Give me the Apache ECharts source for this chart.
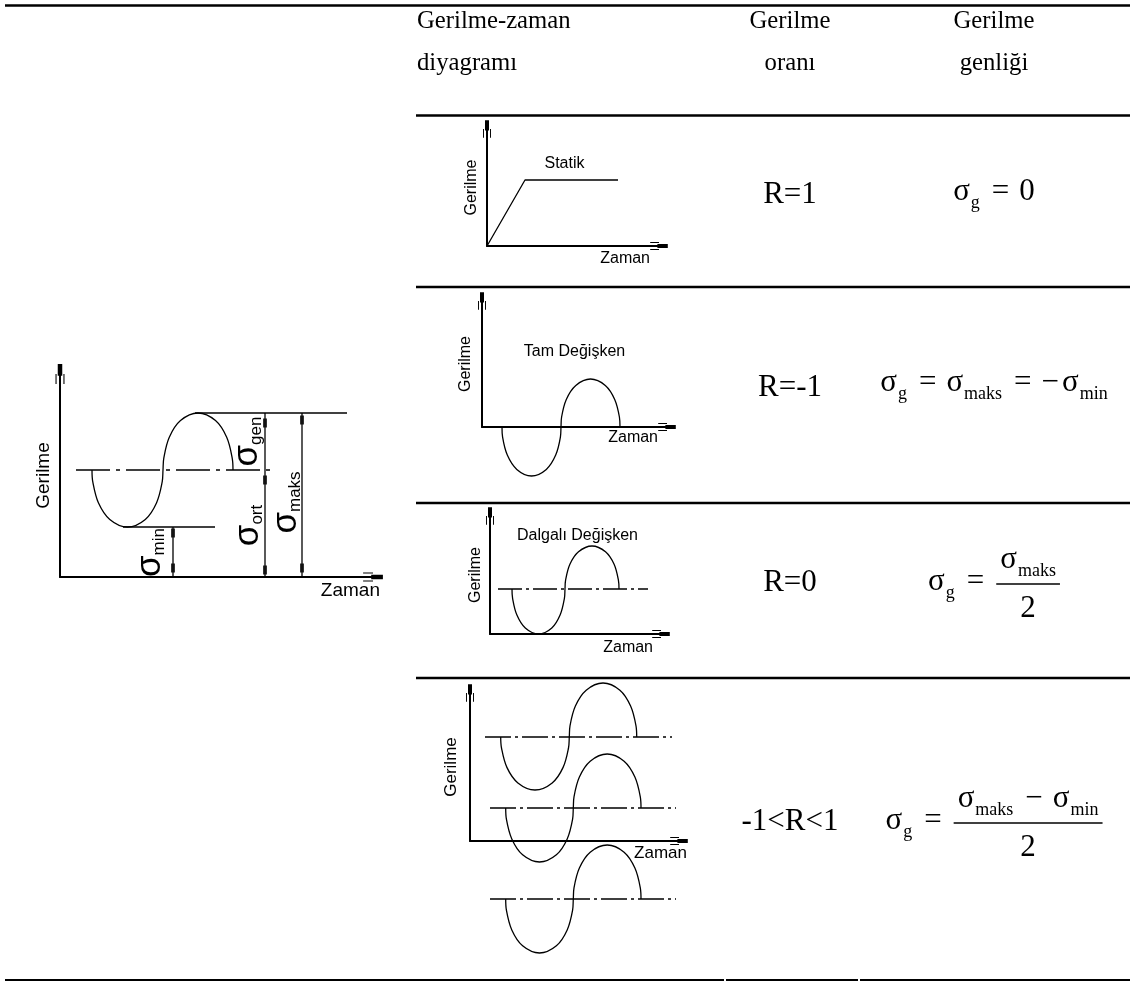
<!DOCTYPE html>
<html>
<head>
<meta charset="utf-8">
<script src="https://cdn.jsdelivr.net/npm/echarts@6/dist/echarts.min.js"></script>
<style>
  html, body { margin: 0; padding: 0; background: #fff; }
  #chart { width: 1130px; height: 981px; }
</style>
</head>
<body>
<div id="chart"></div>
<script>
// ---------- table text ----------
const basliklar = [
  ['Gerilme-zaman', 'diyagramı'],
  ['Gerilme', 'oranı'],
  ['Gerilme', 'genliği']
];
const oranlar = ['R=1', 'R=-1', 'R=0', '-1<R<1'];
// amplitude formulas: [text, kind]  kind: m = main, s = subscript, op = binary operator, neg = sign
const genlikFormulleri = [
  [['σ', 'm'], ['g', 's'], ['=', 'op'], ['0', 'm']],
  [['σ', 'm'], ['g', 's'], ['=', 'op'], ['σ', 'm'], ['maks', 's'], ['=', 'op'], ['−', 'neg'], ['σ', 'm'], ['min', 's']],
  [['σ', 'm'], ['g', 's'], ['=', 'op'], { pay: [['σ', 'm'], ['maks', 's']], payda: [['2', 'm']] }],
  [['σ', 'm'], ['g', 's'], ['=', 'op'], { pay: [['σ', 'm'], ['maks', 's'], ['−', 'op'], ['σ', 'm'], ['min', 's']], payda: [['2', 'm']] }]
];

// ---------- diagram data (stress vs time, arbitrary units) ----------
// general cycle
const genelEgri = [[3.2,10.7],[3.28,9.51],[3.84,7.43],[4.98,5.76],[6.75,5.0],[8.53,5.76],[9.66,7.43],[10.22,9.51],[10.3,10.7],[10.38,11.89],[10.93,13.97],[12.05,15.64],[13.8,16.4],[15.55,15.64],[16.67,13.97],[17.22,11.89],[17.3,10.7]];
const genelOrt = [[1.6,10.7],[21.0,10.7]];
const genelMaks = [[13.5,16.4],[28.7,16.4]];
const genelMin = [[6.3,5.0],[15.5,5.0]];
const olcuMin = [[11.3,5.0],[11.3,0]];
const olcuOrt = [[20.5,16.4],[20.5,0]];
const olcuMaks = [[24.2,16.4],[24.2,0]];
const olcuIsaret = [[11.3,4.4],[11.3,0.9],[20.5,15.4],[20.5,9.7],[20.5,0.7],[24.2,15.7],[24.2,0.9]];
const genelEtiketler = [
  { alt: 'min', konum: [9.1, 2.4] },
  { alt: 'gen', konum: [18.8, 13.5] },
  { alt: 'ort', konum: [18.9, 5.1] },
  { alt: 'maks', konum: [22.7, 7.4] }
];
// static
const statikCizgi = [[0,0],[3.8,6.6],[13.1,6.6]];
const statikEtiket = ['Statik', [7.8, 8.2]];
// fully reversed
const tamEgri = [[2.0,0],[2.06,-1.02],[2.53,-2.81],[3.48,-4.24],[4.95,-4.9],[6.43,-4.24],[7.37,-2.81],[7.84,-1.02],[7.9,0],[7.96,1.0],[8.43,2.76],[9.38,4.16],[10.85,4.8],[12.33,4.16],[13.27,2.76],[13.74,1.0],[13.8,0]];
const tamEtiket = ['Tam Değişken', [9.3, 7.5]];
// pulsating
const dalgaliEgri = [[2.2,4.5],[2.26,3.56],[2.68,1.92],[3.53,0.6],[4.85,0],[6.18,0.6],[7.02,1.92],[7.44,3.56],[7.5,4.5],[7.56,5.39],[7.99,6.97],[8.85,8.22],[10.2,8.8],[11.55,8.22],[12.41,6.97],[12.84,5.39],[12.9,4.5]];
const dalgaliOrt = [[0.8,4.5],[15.8,4.5]];
const dalgaliEtiket = ['Dalgalı Değişken', [8.8, 9.8]];
// -1<R<1 family
const ustEgri = [[3.07,10.4],[3.15,9.3],[3.69,7.36],[4.79,5.81],[6.5,5.1],[8.22,5.81],[9.31,7.36],[9.85,9.3],[9.93,10.4],[10.0,11.52],[10.54,13.5],[11.62,15.08],[13.3,15.8],[14.99,15.08],[16.06,13.5],[16.6,11.52],[16.67,10.4]];
const ortaEgri = [[3.57,3.3],[3.64,2.18],[4.18,0.2],[5.26,-1.38],[6.95,-2.1],[8.64,-1.38],[9.72,0.2],[10.26,2.18],[10.33,3.3],[10.4,4.42],[10.94,6.4],[12.02,7.98],[13.72,8.7],[15.41,7.98],[16.49,6.4],[17.03,4.42],[17.1,3.3]];
const altEgri = [[3.57,-5.8],[3.64,-6.92],[4.18,-8.9],[5.26,-10.48],[6.95,-11.2],[8.64,-10.48],[9.72,-8.9],[10.26,-6.92],[10.33,-5.8],[10.4,-4.68],[10.94,-2.7],[12.02,-1.12],[13.72,-0.4],[15.41,-1.12],[16.49,-2.7],[17.03,-4.68],[17.1,-5.8]];
const ustOrt = [[1.5,10.4],[20.2,10.4]];
const ortaOrt = [[2.0,3.3],[20.6,3.3]];
const altOrt = [[2.0,-5.8],[20.6,-5.8]];

// axis ranges per diagram
const xUst = [31.3, 17.2, 18.5, 17.1, 20.9];
const yUst = [20.3, 11.7, 12.6, 11.8, 14.8];

// ---------- layout ----------
const SERIF = '"Liberation Serif", "Times New Roman", serif';
const SANS = '"Liberation Sans", Arial, sans-serif';
const izgaralar = [ // left, top, width, height
  [60, 374, 313, 203],
  [487, 129, 172, 117],
  [482, 301, 185, 126],
  [490, 516, 171, 118],
  [470, 693, 209, 148]
];
const eksenStil = [ // label size, y-name gap, x-name gap, x-name top pad, arrow size
  { fs: 19, yGap: 7, xGap: 7, pad: 4, ok: [9, 22] },
  { fs: 16, yGap: 7.5, xGap: -9, pad: 5, ok: [8, 20] },
  { fs: 16, yGap: 8, xGap: -9, pad: 3, ok: [8, 20] },
  { fs: 16, yGap: 6, xGap: -8, pad: 6, ok: [8, 20] },
  { fs: 17, yGap: 10.5, xGap: 8, pad: 4, ok: [8, 20] }
];
const OK = 'path://M2.5,0H7.5V13H2.5Z M0,11H1.2V22H0Z M8.8,11H10V22H8.8Z';
const MUREKKEP = '#000';
const KENARSIZ = { textBorderWidth: 0, textBorderColor: 'transparent', textShadowBlur: 0, opacity: 1 };

const chart = echarts.init(document.getElementById('chart'), null, { renderer: 'canvas' });

// ---------- graphic: rules, headers, formulas ----------
const graphic = [];
const mctx = document.createElement('canvas').getContext('2d');
function olc(t, size) { mctx.font = size + 'px ' + SERIF; return mctx.measureText(t).width; }
function hat(x1, x2, y, w) {
  graphic.push({ type: 'line', silent: true, shape: { x1: x1, y1: y, x2: x2, y2: y }, style: { stroke: '#000', lineWidth: w } });
}
function yazi(text, x, base, size, family, align, sx) {
  const k = family === SERIF ? 0.3375 : 0.3465;
  graphic.push({ type: 'text', silent: true, x: x, y: base - k * size, scaleX: sx || 1,
    style: { text: text, fontSize: size, fontFamily: family, fill: '#000',
      align: align, textAlign: align, verticalAlign: 'middle', textVerticalAlign: 'middle' } });
}

hat(5, 1130, 5.5, 2.5);
[115.5, 287, 503, 678].forEach(y => hat(416, 1130, y, 2.5));
hat(5, 724, 980, 2); hat(726, 858, 980, 2); hat(860, 1130, 980, 2);

const HFS = 26, HSX = 0.95;
yazi(basliklar[0][0], 417, 30, HFS, SERIF, 'left', HSX);
yazi(basliklar[0][1], 417, 72, HFS, SERIF, 'left', HSX);
yazi(basliklar[1][0], 790, 30, HFS, SERIF, 'center', HSX);
yazi(basliklar[1][1], 790, 72, HFS, SERIF, 'center', HSX);
yazi(basliklar[2][0], 994, 30, HFS, SERIF, 'center', HSX);
yazi(basliklar[2][1], 994, 72, HFS, SERIF, 'center', HSX);

const oranTaban = [205, 398, 593, 832];
oranlar.forEach((t, i) => yazi(t, 790, oranTaban[i], 31, SERIF, 'center'));

const BOY = { m: 31, s: 18, op: 31, neg: 31 };
const BOSLUK = { m: [0, 0], s: [1, 0], op: [12, 10], neg: [0, 3] };
function tokW(tk) { return BOSLUK[tk[1]][0] + olc(tk[0], BOY[tk[1]]) + BOSLUK[tk[1]][1]; }
function satirW(list) { return list.reduce((a, tk) => a + tokW(tk), 0); }
function satirCiz(list, x, base) {
  list.forEach(tk => {
    x += BOSLUK[tk[1]][0];
    yazi(tk[0], x, base + (tk[1] === 's' ? 7 : 0), BOY[tk[1]], SERIF, 'left');
    x += olc(tk[0], BOY[tk[1]]) + BOSLUK[tk[1]][1];
  });
  return x;
}
function parcaW(p) {
  if (Array.isArray(p)) return tokW(p);
  return Math.max(satirW(p.pay), satirW(p.payda)) + 10;
}
function formulCiz(parcalar, cx, base) {
  const toplam = parcalar.reduce((a, p) => a + parcaW(p), 0);
  let x = cx - toplam / 2;
  parcalar.forEach(p => {
    if (Array.isArray(p)) { x = satirCiz([p], x, base); return; }
    const w = parcaW(p);
    const cizgiY = base - 8;
    const nW = satirW(p.pay), dW = satirW(p.payda);
    graphic.push({ type: 'line', silent: true, shape: { x1: x + 2, y1: cizgiY, x2: x + w, y2: cizgiY }, style: { stroke: '#000', lineWidth: 1.3 } });
    satirCiz(p.pay, x + 1 + (w - nW) / 2, cizgiY - 14);
    satirCiz(p.payda, x + 1 + (w - dW) / 2, cizgiY + 35);
    x += w;
  });
}
const formulTaban = [202, 393, 592, 831];
genlikFormulleri.forEach((f, i) => formulCiz(f, 994, formulTaban[i]));

// ---------- series ----------
const S = [];
function seri(gi, data, extra) {
  S.push(Object.assign({ type: 'line', xAxisIndex: gi, yAxisIndex: gi, data: data, symbol: 'none',
    clip: false, silent: true, z: 3, lineStyle: { color: MUREKKEP, width: 1.3 } }, extra || {}));
}
function egri(gi, data) { seri(gi, data, { smooth: 0.35 }); }
function ortHat(gi, data, desen) { seri(gi, data, { lineStyle: { color: MUREKKEP, width: 1.3, type: desen } }); }
function etiket(gi, konum, formatter, label) {
  S.push({ type: 'scatter', xAxisIndex: gi, yAxisIndex: gi, data: [konum], symbol: 'circle', symbolSize: 1,
    itemStyle: { color: '#fff', opacity: 1 }, silent: true, clip: false, z: 5,
    label: Object.assign({ show: true, position: [0, 0], align: 'center', verticalAlign: 'middle',
      formatter: formatter, color: '#000', fontFamily: SANS }, KENARSIZ, label) });
}

// general cycle
egri(0, genelEgri);
ortHat(0, genelOrt, [34, 6, 4, 6]);
seri(0, genelMaks);
seri(0, genelMin);
seri(0, olcuMin);
seri(0, olcuOrt);
seri(0, olcuMaks);
S.push({ type: 'scatter', xAxisIndex: 0, yAxisIndex: 0, data: olcuIsaret, symbol: 'rect', symbolSize: [4, 9],
  itemStyle: { color: '#000' }, silent: true, z: 4 });
genelEtiketler.forEach(e => etiket(0, e.konum, '{s|σ}{b|' + e.alt + '}', {
  rotate: 90,
  rich: {
    s: Object.assign({ fontSize: 35, fontFamily: SANS, color: '#000', verticalAlign: 'bottom', lineHeight: 35 }, KENARSIZ),
    b: Object.assign({ fontSize: 17, fontFamily: SANS, color: '#000', verticalAlign: 'bottom', lineHeight: 35 }, KENARSIZ)
  }
}));

// static
seri(1, statikCizgi);
etiket(1, statikEtiket[1], statikEtiket[0], { fontSize: 16 });
// fully reversed
egri(2, tamEgri);
etiket(2, tamEtiket[1], tamEtiket[0], { fontSize: 16 });
// pulsating
egri(3, dalgaliEgri);
ortHat(3, dalgaliOrt, [24, 4, 3, 4]);
etiket(3, dalgaliEtiket[1], dalgaliEtiket[0], { fontSize: 16 });
// family
[ustEgri, ortaEgri, altEgri].forEach(d => egri(4, d));
[ustOrt, ortaOrt, altOrt].forEach(d => ortHat(4, d, [26, 4, 3, 4]));

// ---------- axes ----------
function eksenCizgi(i) {
  return { show: true, onZero: false, symbol: ['none', OK], symbolSize: eksenStil[i].ok,
    lineStyle: { color: '#000', width: 2 } };
}
const xAxis = izgaralar.map((g, i) => ({
  gridIndex: i, type: 'value', min: 0, max: xUst[i],
  axisLine: eksenCizgi(i), axisTick: { show: false }, axisLabel: { show: false }, splitLine: { show: false },
  name: 'Zaman', nameLocation: 'end', nameGap: eksenStil[i].xGap, nameMoveOverlap: false,
  nameTextStyle: { fontFamily: SANS, fontSize: eksenStil[i].fs, color: '#000', align: 'right',
    verticalAlign: 'top', padding: [eksenStil[i].pad, 0, 0, 0] }
}));
const yAxis = izgaralar.map((g, i) => ({
  gridIndex: i, type: 'value', min: 0, max: yUst[i],
  axisLine: eksenCizgi(i), axisTick: { show: false }, axisLabel: { show: false }, splitLine: { show: false },
  name: 'Gerilme', nameLocation: 'middle', nameRotate: 90, nameGap: eksenStil[i].yGap, nameMoveOverlap: false,
  nameTextStyle: { fontFamily: SANS, fontSize: eksenStil[i].fs, color: '#000' }
}));

chart.setOption({
  animation: false,
  backgroundColor: '#fff',
  grid: izgaralar.map(g => ({ left: g[0], top: g[1], width: g[2], height: g[3], containLabel: false, outerBoundsMode: 'none' })),
  xAxis: xAxis,
  yAxis: yAxis,
  series: S,
  graphic: graphic
});
</script>
</body>
</html>
